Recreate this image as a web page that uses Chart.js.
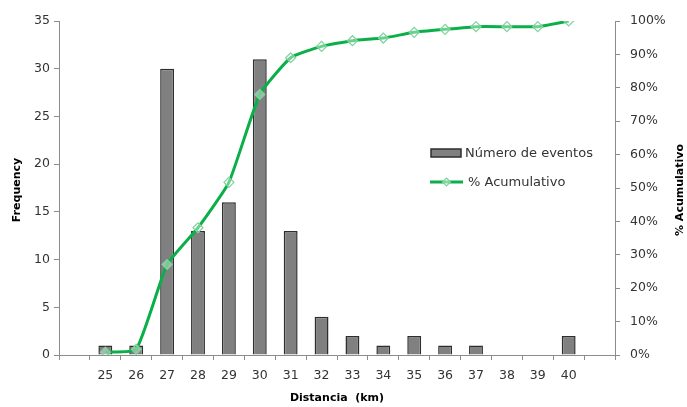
<!DOCTYPE html>
<html><head><meta charset="utf-8">
<script src="https://cdn.jsdelivr.net/npm/chart.js@4"></script>
<style>html,body{margin:0;padding:0;background:#fff}#w{width:687px;height:407px;position:relative}</style>
</head><body><div id="w"><canvas id="c" width="687" height="407"></canvas></div>
<script>
const categories = ['', '25','26','27','28','29','30','31','32','33','34','35','36','37','38','39','40',''];
const eventos = [null, 1, 1, 30, 13, 16, 31, 13, 4, 2, 1, 2, 1, 1, 0, 0, 2, null];
const acumulativo = [null, 0.0085, 0.017, 0.271, 0.381, 0.517, 0.780, 0.890, 0.924, 0.941, 0.949, 0.966, 0.975, 0.983, 0.983, 0.983, 1.0, null];
const freqTicks = [0,5,10,15,20,25,30,35];
const seriesNames = ['Número de eventos', '% Acumulativo'];
const axisTitles = {x: 'Distancia  (km)', y: 'Frequency', y2: '% Acumulativo'};

const FONT = 'DejaVu Sans';
const GREEN = '#0BAF4A';
const AXIS = '#8C8C8C';
const TXT = '#333333';

const overlay = {
  id: 'overlay',
  afterDatasetsDraw(chart) {
    const ctx = chart.ctx;
    const ca = chart.chartArea;
    ctx.save();
    ctx.fillStyle = '#000';
    ctx.font = 'bold 11px ' + FONT;
    ctx.textAlign = 'center';
    ctx.textBaseline = 'middle';
    ctx.save(); ctx.translate(17, (ca.top + ca.bottom) / 2 + 2); ctx.rotate(-Math.PI/2); ctx.fillText(axisTitles.y, 0, 0); ctx.restore();
    ctx.save(); ctx.translate(680, (ca.top + ca.bottom) / 2 + 2); ctx.rotate(-Math.PI/2); ctx.fillText(axisTitles.y2, 0, 0); ctx.restore();
    ctx.fillText(axisTitles.x, (ca.left + ca.right) / 2, 398);
    // legend
    ctx.font = '13px ' + FONT;
    ctx.textAlign = 'left';
    ctx.fillStyle = '#808080';
    ctx.strokeStyle = '#2E2E2E';
    ctx.lineWidth = 1.5;
    ctx.fillRect(431, 149, 30, 8);
    ctx.strokeRect(431, 149, 30, 8);
    ctx.fillStyle = TXT;
    ctx.fillText(seriesNames[0], 465, 154);
    ctx.strokeStyle = GREEN;
    ctx.lineWidth = 3;
    ctx.beginPath(); ctx.moveTo(430, 182); ctx.lineTo(463, 182); ctx.stroke();
    ctx.strokeStyle = '#7ED39A'; ctx.lineWidth = 1.2; ctx.fillStyle = 'rgba(255,255,255,0.5)';
    ctx.beginPath(); ctx.moveTo(446.5, 178); ctx.lineTo(450.5, 182); ctx.lineTo(446.5, 186); ctx.lineTo(442.5, 182); ctx.closePath(); ctx.fill(); ctx.stroke();
    ctx.fillStyle = TXT;
    ctx.fillText(seriesNames[1], 468, 183);
    ctx.restore();
  }
};

new Chart(document.getElementById('c'), {
  data: {
    labels: categories,
    datasets: [
      {
        type: 'line', label: seriesNames[1], data: acumulativo, yAxisID: 'y2',
        borderColor: GREEN, borderWidth: 3, tension: 0.15,
        pointStyle: 'rectRot', pointRadius: 5, pointBorderWidth: 1.2,
        pointBorderColor: '#7ED39A', pointBackgroundColor: 'rgba(255,255,255,0.4)',
        order: 0, spanGaps: false
      },
      {
        type: 'bar', label: seriesNames[0], data: eventos, yAxisID: 'y',
        backgroundColor: '#808080', borderColor: '#2E2E2E', borderWidth: 1.5,
        categoryPercentage: 1, barPercentage: 0.45, order: 1
      }
    ]
  },
  options: {
    responsive: false, animation: false,
    layout: {padding: {top: 21, left: 0, right: 0, bottom: 0}},
    plugins: {legend: {display: false}, tooltip: {enabled: false}},
    scales: {
      x: {
        offset: true,
        grid: {offset: true, drawOnChartArea: false, drawTicks: true, tickLength: 5, color: AXIS},
        border: {color: AXIS, width: 1},
        ticks: {color: TXT, font: {family: FONT, size: 12.5}, padding: 8, maxRotation: 0, autoSkip: false},
        afterFit(s) { s.height = 52; }
      },
      y: {
        position: 'left', min: 0, max: 35,
        afterBuildTicks(s) { s.ticks = freqTicks.map(v => ({value: v})); },
        grid: {drawOnChartArea: false, drawTicks: true, tickLength: 5, color: AXIS},
        border: {color: AXIS, width: 1},
        ticks: {color: TXT, font: {family: FONT, size: 12.5}, padding: 4},
        afterFit(s) { s.width = 59; }
      },
      y2: {
        position: 'right', min: 0, max: 1,
        grid: {drawOnChartArea: false, drawTicks: true, tickLength: 5, color: AXIS},
        border: {color: AXIS, width: 1},
        ticks: {stepSize: 0.1, color: TXT, font: {family: FONT, size: 12.5}, padding: 10,
                callback: v => Math.round(v * 100) + '%'},
        afterFit(s) { s.width = 72; }
      }
    }
  },
  plugins: [overlay]
});
</script>
</body></html>
